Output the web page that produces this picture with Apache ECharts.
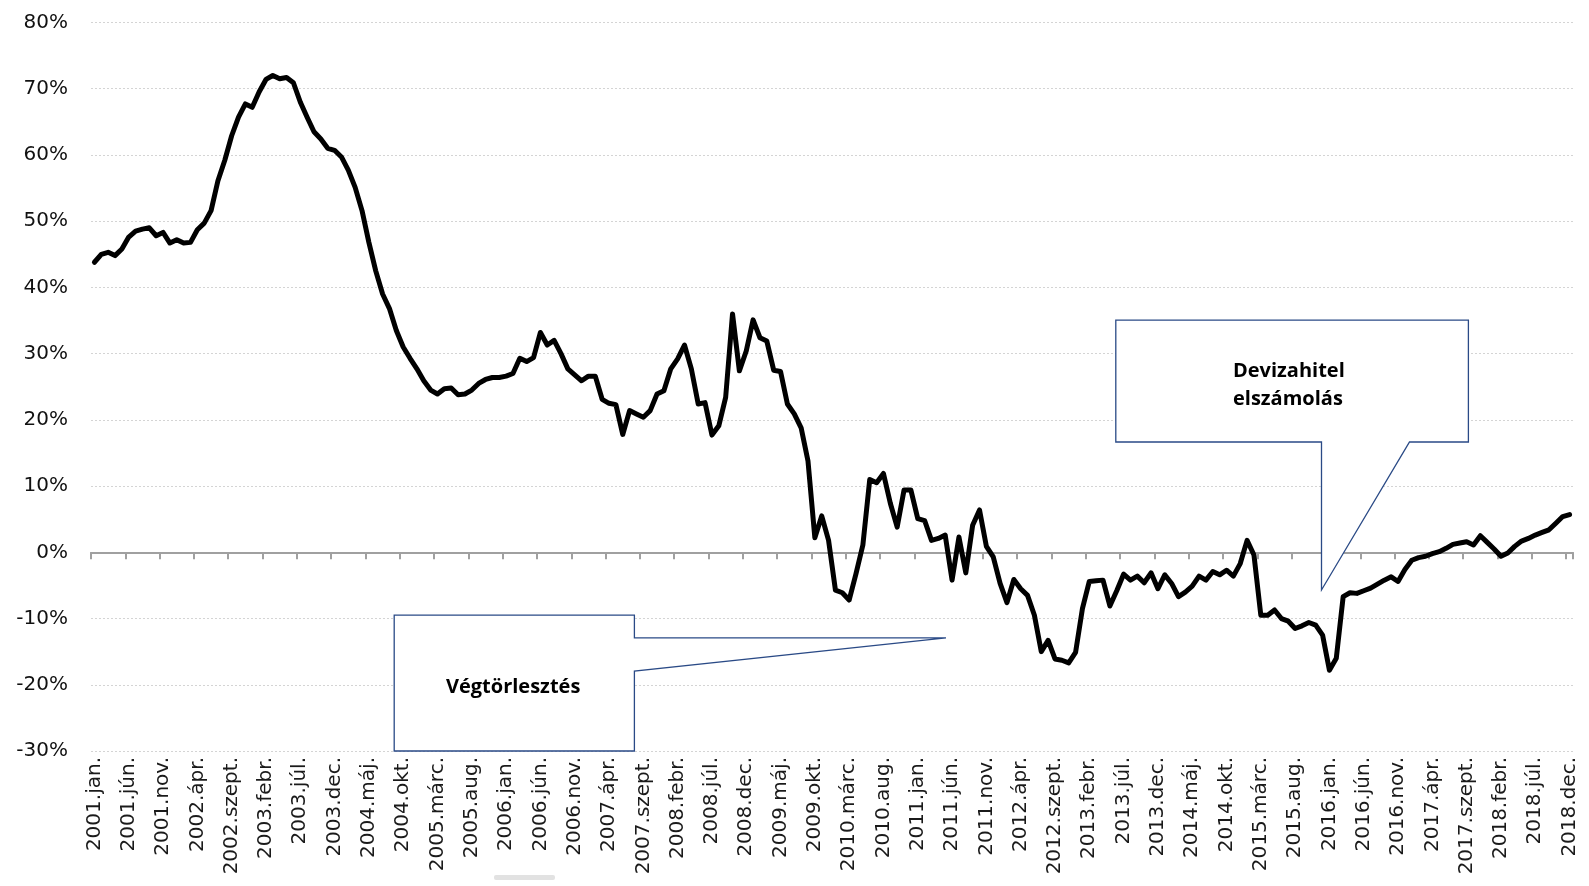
<!DOCTYPE html>
<html>
<head>
<meta charset="utf-8">
<script src="https://cdn.jsdelivr.net/npm/echarts@6/dist/echarts.min.js"></script>
<style>
  html, body { margin: 0; padding: 0; background: #fff; }
  #chart { width: 1589px; height: 886px; }
</style>
</head>
<body>
<div id="chart"></div>
<script>
// Hónapok és évek
var years = [2001, 2002, 2003, 2004, 2005, 2006, 2007, 2008, 2009,
             2010, 2011, 2012, 2013, 2014, 2015, 2016, 2017, 2018];
var months = ['jan.', 'febr.', 'márc.', 'ápr.', 'máj.', 'jún.',
              'júl.', 'aug.', 'szept.', 'okt.', 'nov.', 'dec.'];

// Éves növekedés, % (havi adatok)
var y2001 = [43.8, 45.0, 45.3, 44.8, 45.8, 47.6, 48.5, 48.8, 49.0, 47.8, 48.3, 46.7];
var y2002 = [47.2, 46.7, 46.8, 48.7, 49.7, 51.6, 56.1, 59.2, 62.9, 65.7, 67.7, 67.2];
var y2003 = [69.5, 71.4, 72.0, 71.5, 71.7, 70.9, 68.0, 65.7, 63.5, 62.4, 61.0, 60.7];
var y2004 = [59.7, 57.7, 55.1, 51.6, 46.8, 42.5, 39.0, 36.8, 33.5, 31.0, 29.3, 27.7];
var y2005 = [25.9, 24.5, 23.9, 24.7, 24.8, 23.8, 23.9, 24.5, 25.5, 26.1, 26.4, 26.4];
var y2006 = [26.6, 27.0, 29.3, 28.8, 29.4, 33.2, 31.3, 32.0, 30.0, 27.7, 26.8, 25.9];
var y2007 = [26.6, 26.6, 23.1, 22.5, 22.3, 17.8, 21.4, 20.9, 20.4, 21.4, 23.9, 24.4];
var y2008 = [27.7, 29.2, 31.3, 27.7, 22.4, 22.6, 17.7, 19.1, 23.4, 36.0, 27.4, 30.4];
var y2009 = [35.1, 32.4, 31.9, 27.5, 27.3, 22.4, 20.9, 18.8, 13.8, 2.2, 5.5, 1.8];
var y2010 = [-5.7, -6.1, -7.2, -3.2, 1.1, 11.0, 10.5, 11.9, 7.4, 3.8, 9.4, 9.4];
var y2011 = [5.1, 4.8, 1.8, 2.1, 2.6, -4.2, 2.3, -3.1, 4.1, 6.4, 0.9, -0.7];
var y2012 = [-4.7, -7.6, -4.1, -5.5, -6.5, -9.5, -15.0, -13.3, -16.1, -16.3, -16.7, -15.1];
var y2013 = [-8.5, -4.4, -4.3, -4.2, -8.1, -5.8, -3.3, -4.2, -3.6, -4.6, -3.1, -5.5];
var y2014 = [-3.4, -4.7, -6.7, -6.0, -5.1, -3.6, -4.2, -2.9, -3.4, -2.7, -3.6, -1.7];
var y2015 = [1.8, -0.4, -9.5, -9.5, -8.7, -10.0, -10.4, -11.5, -11.1, -10.6, -11.0, -12.5];
var y2016 = [-17.8, -16.0, -6.7, -6.1, -6.2, -5.8, -5.4, -4.8, -4.2, -3.7, -4.4, -2.6];
var y2017 = [-1.2, -0.8, -0.6, -0.2, 0.1, 0.6, 1.2, 1.4, 1.6, 1.1, 2.5, 1.5];
var y2018 = [0.5, -0.6, -0.1, 0.9, 1.7, 2.1, 2.6, 3.0, 3.4, 4.4, 5.4, 5.7];

var yMin = -30, yMax = 80, yStep = 10;

var categories = [];
years.forEach(function(y) {
    months.forEach(function(m) { categories.push(y + '.' + m); });
});
var values = [].concat(y2001, y2002, y2003, y2004, y2005, y2006, y2007, y2008, y2009,
                       y2010, y2011, y2012, y2013, y2014, y2015, y2016, y2017, y2018);

var axisFont = 'DejaVu Sans';
var noteFont = '"Open Sans", sans-serif';
var boxColor = '#2a4a86';
var axisGray = '#a0a0a0';

var chart = echarts.init(document.getElementById('chart'));
chart.setOption({
    animation: false,
    backgroundColor: '#fff',
    grid: { left: 91, right: 16, top: 22.5, bottom: 135 },
    xAxis: [{
        type: 'category',
        data: categories,
        position: 'bottom',
        axisLine: { show: false, onZero: false },
        axisTick: { show: false },
        axisLabel: {
            interval: 4, rotate: 90, margin: 6,
            color: '#1a1a1a', fontFamily: axisFont, fontSize: 20
        }
    }, {
        // vízszintes tengely a 0%-on
        type: 'category',
        data: categories,
        position: 'bottom',
        axisLine: { show: true, onZero: true, lineStyle: { color: axisGray, width: 2 } },
        axisTick: { show: true, interval: 4, alignWithLabel: false, inside: false, length: 7,
                    lineStyle: { color: axisGray, width: 2 } },
        axisLabel: { show: false, interval: 4 },
        splitLine: { show: false }
    }],
    yAxis: {
        type: 'value',
        min: yMin, max: yMax, interval: yStep,
        axisLine: { show: false },
        axisTick: { show: false },
        axisLabel: {
            formatter: '{value}%', margin: 23,
            color: '#111', fontFamily: axisFont, fontSize: 20
        },
        splitLine: { lineStyle: { color: '#d4d4d4', type: [2, 2], width: 1 } }
    },
    series: [{
        type: 'line',
        xAxisIndex: 0,
        data: values,
        showSymbol: false,
        symbol: 'none',
        lineStyle: { color: '#000', width: 5, join: 'round', cap: 'round' },
        z: 3
    }],
    graphic: [
        // Devizahitel elszámolás
        {
            type: 'polygon', z: 10,
            shape: { points: [[1115.8, 320.2], [1468.4, 320.2], [1468.4, 442], [1409.5, 442],
                              [1321.5, 590], [1321.5, 442], [1115.8, 442]] },
            style: { fill: '#fff', stroke: boxColor, lineWidth: 1.3 }
        },
        {
            type: 'text', z: 11, left: 1293 - 60, top: 357,
            style: { text: 'Devizahitel\nelszámolás', width: 120, align: 'center',
                     font: 'bold 20px ' + noteFont, lineHeight: 28, fill: '#000' }
        },
        // Végtörlesztés
        {
            type: 'polygon', z: 10,
            shape: { points: [[394.2, 615.1], [634.4, 615.1], [634.4, 637.8], [946, 637.8],
                              [634.4, 671], [634.4, 751], [394.2, 751]] },
            style: { fill: '#fff', stroke: boxColor, lineWidth: 1.3 }
        },
        {
            type: 'text', z: 11, left: 516 - 70, top: 677,
            style: { text: 'Végtörlesztés', width: 140, align: 'center',
                     font: 'bold 20px ' + noteFont, fill: '#000' }
        },
        // halvány szürke sáv alul
        {
            type: 'rect', z: 1,
            shape: { x: 494, y: 875, width: 61, height: 5, r: 2 },
            style: { fill: '#e2e2e2' }
        }
    ]
});

window.addEventListener('resize', function() { chart.resize(); });
</script>
</body>
</html>
